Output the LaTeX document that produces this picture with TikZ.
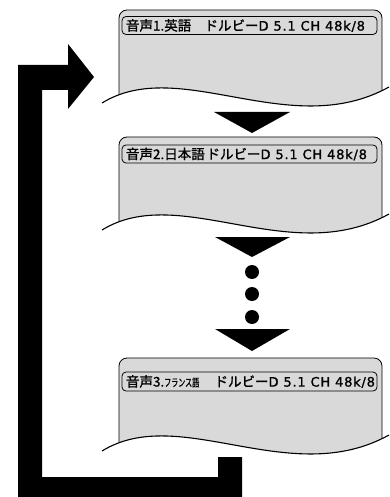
\documentclass[tikz,border=0pt]{standalone}
\usepackage{graphicx}
\usepackage{fontspec}
\newfontfamily\cjk[FakeBold=1.2]{Noto Sans CJK JP}
\newfontfamily\lat[LetterSpace=6,FakeBold=1.2]{DejaVu Sans}
\newcommand{\jtxt}[1]{{\fontsize{13.5pt}{15pt}\cjk #1}}
\newcommand{\ltxt}[1]{{\fontsize{13pt}{15pt}\lat #1}}
\tikzset{
  panelfill/.style={fill=black!15, draw=black, line width=0.8pt, rounded corners=8pt},
  wave/.style={draw=black, line width=1.1pt},
  labelbox/.style={draw=black, line width=0.8pt, rounded corners=4pt,
    inner xsep=0pt, inner ysep=0pt, minimum height=18pt},
  blackfill/.style={fill=black},
  dot/.style={circle, fill=black, minimum size=14pt, inner sep=0pt}
}
\newcommand{\audiopanel}[1]{%
  \begin{scope}[shift={(0,#1)}]
    \begin{scope}
      \clip (102,103) .. controls (180,55) and (290,142) .. (389,87) -- (389,0) -- (100,0) -- cycle;
      \path[panelfill] (119,140) -- (119,10) -- (382,10) -- (382,140) -- cycle;
    \end{scope}
    \draw[wave] (102,103) .. controls (180,55) and (290,142) .. (389,87);
  \end{scope}}
\begin{document}
\begin{tikzpicture}[x=1pt,y=-1pt]
\useasboundingbox (0,0) rectangle (389,497);
% panels
\audiopanel{0}
\audiopanel{127}
\audiopanel{348}
% labels
\node[labelbox] (lab1) at (249.5,25.5) {\makebox[255pt][l]{\hspace{4pt}\jtxt{音声1.英語}\hfill\jtxt{ドルビー}\ltxt{D 5.1 CH 48k/8}\hspace{12pt}}};
\node[labelbox] (lab2) at (249.5,154) {\makebox[255pt][l]{\hspace{4pt}\jtxt{音声2.日本語}\hfill\jtxt{ドルビー}\ltxt{D 5.1 CH 48k/8}\hspace{10pt}}};
\node[labelbox, minimum height=19pt] (lab3) at (249.5,381.5) {\makebox[255pt][l]{\hspace{4pt}\jtxt{音声3.\scalebox{0.52}[0.8]{フランス語}}\hfill\jtxt{ドルビー}\ltxt{D 5.1 CH 48k/8}\hspace{2pt}}};
% triangles
\fill[blackfill] (214,112) -- (290,112) -- (252,133) -- cycle;
\fill[blackfill] (215,237) -- (290,237) -- (252,257) -- cycle;
\fill[blackfill] (215,329) -- (290,329) -- (252,351) -- cycle;
% dots
\node[dot] (d1) at (252,272) {};
\node[dot] (d2) at (252,294) {};
\node[dot] (d3) at (252,317) {};
% loop arrow
\fill[blackfill] (242,457) -- (242,497) -- (18,497) -- (18,65) -- (68,65) -- (68,44) -- (94,77)
  -- (68,109) -- (68,90) -- (42,90) -- (42,477) -- (218,477) -- (218,457) -- cycle;
\end{tikzpicture}
\end{document}
